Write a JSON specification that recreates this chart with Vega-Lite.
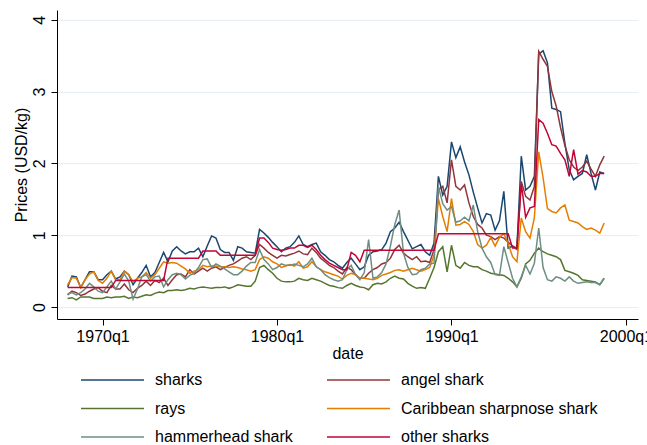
{
"$schema":"https://vega.github.io/schema/vega-lite/v6.json",
"width":581,"height":309,
"autosize":{"type":"none"},
"padding":{"left":57,"top":10,"right":9,"bottom":126},
"background":"white",
"config":{"font":"Liberation Sans","view":{"stroke":null},"axis":{"labelFont":"Liberation Sans","titleFont":"Liberation Sans","titleFontWeight":"normal","labelColor":"#000","titleColor":"#000"},"legend":{"labelFont":"Liberation Sans","labelColor":"#000"}},
"datasets":{
"sharks":[{"t":1968,"v":0.28},{"t":1968.25,"v":0.43},{"t":1968.5,"v":0.42},{"t":1968.75,"v":0.27},{"t":1969,"v":0.38},{"t":1969.25,"v":0.49},{"t":1969.5,"v":0.49},{"t":1969.75,"v":0.38},{"t":1970,"v":0.38},{"t":1970.25,"v":0.45},{"t":1970.5,"v":0.50},{"t":1970.75,"v":0.39},{"t":1971,"v":0.42},{"t":1971.25,"v":0.50},{"t":1971.5,"v":0.45},{"t":1971.75,"v":0.31},{"t":1972,"v":0.40},{"t":1972.25,"v":0.48},{"t":1972.5,"v":0.58},{"t":1972.75,"v":0.42},{"t":1973,"v":0.48},{"t":1973.25,"v":0.62},{"t":1973.5,"v":0.76},{"t":1973.75,"v":0.63},{"t":1974,"v":0.78},{"t":1974.25,"v":0.84},{"t":1974.5,"v":0.78},{"t":1974.75,"v":0.74},{"t":1975,"v":0.77},{"t":1975.25,"v":0.77},{"t":1975.5,"v":0.82},{"t":1975.75,"v":0.70},{"t":1976,"v":0.85},{"t":1976.25,"v":0.99},{"t":1976.5,"v":0.96},{"t":1976.75,"v":0.80},{"t":1977,"v":0.76},{"t":1977.25,"v":0.76},{"t":1977.5,"v":0.65},{"t":1977.75,"v":0.84},{"t":1978,"v":0.82},{"t":1978.25,"v":0.77},{"t":1978.5,"v":0.76},{"t":1978.75,"v":0.75},{"t":1979,"v":1.08},{"t":1979.25,"v":1.03},{"t":1979.5,"v":0.97},{"t":1979.75,"v":0.90},{"t":1980,"v":0.84},{"t":1980.25,"v":0.77},{"t":1980.5,"v":0.82},{"t":1980.75,"v":0.84},{"t":1981,"v":0.90},{"t":1981.25,"v":0.99},{"t":1981.5,"v":0.87},{"t":1981.75,"v":0.84},{"t":1982,"v":0.87},{"t":1982.25,"v":0.89},{"t":1982.5,"v":0.77},{"t":1982.75,"v":0.72},{"t":1983,"v":0.66},{"t":1983.25,"v":0.63},{"t":1983.5,"v":0.58},{"t":1983.75,"v":0.54},{"t":1984,"v":0.62},{"t":1984.25,"v":0.68},{"t":1984.5,"v":0.60},{"t":1984.75,"v":0.52},{"t":1985,"v":0.56},{"t":1985.25,"v":0.72},{"t":1985.5,"v":0.77},{"t":1985.75,"v":0.78},{"t":1986,"v":0.80},{"t":1986.25,"v":0.89},{"t":1986.5,"v":1.05},{"t":1986.75,"v":1.10},{"t":1987,"v":1.18},{"t":1987.25,"v":1.05},{"t":1987.5,"v":0.93},{"t":1987.75,"v":0.81},{"t":1988,"v":0.84},{"t":1988.25,"v":0.87},{"t":1988.5,"v":0.77},{"t":1988.75,"v":0.72},{"t":1989,"v":0.89},{"t":1989.25,"v":1.82},{"t":1989.5,"v":1.56},{"t":1989.75,"v":1.68},{"t":1990,"v":2.30},{"t":1990.25,"v":2.08},{"t":1990.5,"v":2.23},{"t":1990.75,"v":2.02},{"t":1991,"v":1.84},{"t":1991.25,"v":1.60},{"t":1991.5,"v":1.38},{"t":1991.75,"v":1.17},{"t":1992,"v":1.30},{"t":1992.25,"v":1.28},{"t":1992.5,"v":1.07},{"t":1992.75,"v":1.20},{"t":1993,"v":1.61},{"t":1993.25,"v":0.82},{"t":1993.5,"v":0.85},{"t":1993.75,"v":0.82},{"t":1994,"v":2.10},{"t":1994.25,"v":1.63},{"t":1994.5,"v":1.68},{"t":1994.75,"v":1.82},{"t":1995,"v":3.52},{"t":1995.25,"v":3.57},{"t":1995.5,"v":3.40},{"t":1995.75,"v":2.77},{"t":1996,"v":2.75},{"t":1996.25,"v":2.72},{"t":1996.5,"v":2.28},{"t":1996.75,"v":1.91},{"t":1997,"v":1.77},{"t":1997.25,"v":1.82},{"t":1997.5,"v":1.86},{"t":1997.75,"v":2.12},{"t":1998,"v":1.86},{"t":1998.25,"v":1.63},{"t":1998.5,"v":1.88},{"t":1998.75,"v":1.86}],
"angel":[{"t":1968,"v":0.17},{"t":1968.25,"v":0.22},{"t":1968.5,"v":0.20},{"t":1968.75,"v":0.16},{"t":1969,"v":0.18},{"t":1969.25,"v":0.22},{"t":1969.5,"v":0.25},{"t":1969.75,"v":0.27},{"t":1970,"v":0.22},{"t":1970.25,"v":0.20},{"t":1970.5,"v":0.30},{"t":1970.75,"v":0.25},{"t":1971,"v":0.25},{"t":1971.25,"v":0.32},{"t":1971.5,"v":0.24},{"t":1971.75,"v":0.20},{"t":1972,"v":0.26},{"t":1972.25,"v":0.30},{"t":1972.5,"v":0.36},{"t":1972.75,"v":0.30},{"t":1973,"v":0.37},{"t":1973.25,"v":0.34},{"t":1973.5,"v":0.40},{"t":1973.75,"v":0.30},{"t":1974,"v":0.38},{"t":1974.25,"v":0.45},{"t":1974.5,"v":0.46},{"t":1974.75,"v":0.42},{"t":1975,"v":0.52},{"t":1975.25,"v":0.46},{"t":1975.5,"v":0.50},{"t":1975.75,"v":0.54},{"t":1976,"v":0.50},{"t":1976.25,"v":0.54},{"t":1976.5,"v":0.56},{"t":1976.75,"v":0.52},{"t":1977,"v":0.55},{"t":1977.25,"v":0.58},{"t":1977.5,"v":0.60},{"t":1977.75,"v":0.64},{"t":1978,"v":0.68},{"t":1978.25,"v":0.70},{"t":1978.5,"v":0.66},{"t":1978.75,"v":0.72},{"t":1979,"v":0.87},{"t":1979.25,"v":0.82},{"t":1979.5,"v":0.76},{"t":1979.75,"v":0.72},{"t":1980,"v":0.68},{"t":1980.25,"v":0.72},{"t":1980.5,"v":0.71},{"t":1980.75,"v":0.73},{"t":1981,"v":0.75},{"t":1981.25,"v":0.78},{"t":1981.5,"v":0.74},{"t":1981.75,"v":0.73},{"t":1982,"v":0.82},{"t":1982.25,"v":0.76},{"t":1982.5,"v":0.68},{"t":1982.75,"v":0.63},{"t":1983,"v":0.58},{"t":1983.25,"v":0.55},{"t":1983.5,"v":0.50},{"t":1983.75,"v":0.46},{"t":1984,"v":0.55},{"t":1984.25,"v":0.52},{"t":1984.5,"v":0.45},{"t":1984.75,"v":0.40},{"t":1985,"v":0.40},{"t":1985.25,"v":0.47},{"t":1985.5,"v":0.52},{"t":1985.75,"v":0.55},{"t":1986,"v":0.60},{"t":1986.25,"v":0.62},{"t":1986.5,"v":0.68},{"t":1986.75,"v":0.80},{"t":1987,"v":0.86},{"t":1987.25,"v":0.75},{"t":1987.5,"v":0.70},{"t":1987.75,"v":0.66},{"t":1988,"v":0.70},{"t":1988.25,"v":0.63},{"t":1988.5,"v":0.64},{"t":1988.75,"v":0.62},{"t":1989,"v":0.80},{"t":1989.25,"v":1.63},{"t":1989.5,"v":1.68},{"t":1989.75,"v":1.45},{"t":1990,"v":2.05},{"t":1990.25,"v":1.68},{"t":1990.5,"v":1.63},{"t":1990.75,"v":1.70},{"t":1991,"v":1.45},{"t":1991.25,"v":1.26},{"t":1991.5,"v":1.15},{"t":1991.75,"v":1.10},{"t":1992,"v":1.00},{"t":1992.25,"v":0.98},{"t":1992.5,"v":0.94},{"t":1992.75,"v":0.98},{"t":1993,"v":0.96},{"t":1993.25,"v":0.90},{"t":1993.5,"v":0.85},{"t":1993.75,"v":0.80},{"t":1994,"v":1.75},{"t":1994.25,"v":1.54},{"t":1994.5,"v":1.49},{"t":1994.75,"v":1.68},{"t":1995,"v":3.56},{"t":1995.25,"v":3.45},{"t":1995.5,"v":3.35},{"t":1995.75,"v":3.00},{"t":1996,"v":2.80},{"t":1996.25,"v":2.50},{"t":1996.5,"v":2.25},{"t":1996.75,"v":2.05},{"t":1997,"v":1.95},{"t":1997.25,"v":1.90},{"t":1997.5,"v":1.95},{"t":1997.75,"v":2.03},{"t":1998,"v":1.92},{"t":1998.25,"v":1.82},{"t":1998.5,"v":1.98},{"t":1998.75,"v":2.10}],
"rays":[{"t":1968,"v":0.12},{"t":1968.25,"v":0.13},{"t":1968.5,"v":0.10},{"t":1968.75,"v":0.14},{"t":1969,"v":0.14},{"t":1969.25,"v":0.14},{"t":1969.5,"v":0.12},{"t":1969.75,"v":0.12},{"t":1970,"v":0.12},{"t":1970.25,"v":0.14},{"t":1970.5,"v":0.13},{"t":1970.75,"v":0.14},{"t":1971,"v":0.14},{"t":1971.25,"v":0.15},{"t":1971.5,"v":0.12},{"t":1971.75,"v":0.14},{"t":1972,"v":0.13},{"t":1972.25,"v":0.15},{"t":1972.5,"v":0.17},{"t":1972.75,"v":0.16},{"t":1973,"v":0.19},{"t":1973.25,"v":0.21},{"t":1973.5,"v":0.20},{"t":1973.75,"v":0.23},{"t":1974,"v":0.23},{"t":1974.25,"v":0.24},{"t":1974.5,"v":0.23},{"t":1974.75,"v":0.24},{"t":1975,"v":0.26},{"t":1975.25,"v":0.25},{"t":1975.5,"v":0.27},{"t":1975.75,"v":0.28},{"t":1976,"v":0.27},{"t":1976.25,"v":0.26},{"t":1976.5,"v":0.27},{"t":1976.75,"v":0.27},{"t":1977,"v":0.28},{"t":1977.25,"v":0.26},{"t":1977.5,"v":0.28},{"t":1977.75,"v":0.31},{"t":1978,"v":0.30},{"t":1978.25,"v":0.29},{"t":1978.5,"v":0.29},{"t":1978.75,"v":0.36},{"t":1979,"v":0.55},{"t":1979.25,"v":0.58},{"t":1979.5,"v":0.52},{"t":1979.75,"v":0.47},{"t":1980,"v":0.40},{"t":1980.25,"v":0.36},{"t":1980.5,"v":0.35},{"t":1980.75,"v":0.35},{"t":1981,"v":0.36},{"t":1981.25,"v":0.40},{"t":1981.5,"v":0.38},{"t":1981.75,"v":0.37},{"t":1982,"v":0.40},{"t":1982.25,"v":0.38},{"t":1982.5,"v":0.36},{"t":1982.75,"v":0.33},{"t":1983,"v":0.30},{"t":1983.25,"v":0.29},{"t":1983.5,"v":0.27},{"t":1983.75,"v":0.26},{"t":1984,"v":0.30},{"t":1984.25,"v":0.33},{"t":1984.5,"v":0.30},{"t":1984.75,"v":0.28},{"t":1985,"v":0.27},{"t":1985.25,"v":0.24},{"t":1985.5,"v":0.31},{"t":1985.75,"v":0.33},{"t":1986,"v":0.32},{"t":1986.25,"v":0.35},{"t":1986.5,"v":0.40},{"t":1986.75,"v":0.43},{"t":1987,"v":0.40},{"t":1987.25,"v":0.39},{"t":1987.5,"v":0.33},{"t":1987.75,"v":0.29},{"t":1988,"v":0.26},{"t":1988.25,"v":0.27},{"t":1988.5,"v":0.26},{"t":1988.75,"v":0.40},{"t":1989,"v":0.55},{"t":1989.25,"v":0.77},{"t":1989.5,"v":0.84},{"t":1989.75,"v":0.49},{"t":1990,"v":0.86},{"t":1990.25,"v":0.58},{"t":1990.5,"v":0.54},{"t":1990.75,"v":0.62},{"t":1991,"v":0.58},{"t":1991.25,"v":0.56},{"t":1991.5,"v":0.56},{"t":1991.75,"v":0.52},{"t":1992,"v":0.50},{"t":1992.25,"v":0.47},{"t":1992.5,"v":0.46},{"t":1992.75,"v":0.45},{"t":1993,"v":0.44},{"t":1993.25,"v":0.40},{"t":1993.5,"v":0.35},{"t":1993.75,"v":0.28},{"t":1994,"v":0.40},{"t":1994.25,"v":0.60},{"t":1994.5,"v":0.65},{"t":1994.75,"v":0.75},{"t":1995,"v":0.82},{"t":1995.25,"v":0.77},{"t":1995.5,"v":0.74},{"t":1995.75,"v":0.72},{"t":1996,"v":0.70},{"t":1996.25,"v":0.66},{"t":1996.5,"v":0.51},{"t":1996.75,"v":0.49},{"t":1997,"v":0.47},{"t":1997.25,"v":0.44},{"t":1997.5,"v":0.38},{"t":1997.75,"v":0.37},{"t":1998,"v":0.36},{"t":1998.25,"v":0.35},{"t":1998.5,"v":0.31},{"t":1998.75,"v":0.40}],
"carib":[{"t":1968,"v":0.31},{"t":1968.25,"v":0.41},{"t":1968.5,"v":0.40},{"t":1968.75,"v":0.27},{"t":1969,"v":0.38},{"t":1969.25,"v":0.46},{"t":1969.5,"v":0.49},{"t":1969.75,"v":0.37},{"t":1970,"v":0.33},{"t":1970.25,"v":0.40},{"t":1970.5,"v":0.50},{"t":1970.75,"v":0.38},{"t":1971,"v":0.38},{"t":1971.25,"v":0.50},{"t":1971.5,"v":0.45},{"t":1971.75,"v":0.35},{"t":1972,"v":0.40},{"t":1972.25,"v":0.42},{"t":1972.5,"v":0.48},{"t":1972.75,"v":0.40},{"t":1973,"v":0.45},{"t":1973.25,"v":0.54},{"t":1973.5,"v":0.63},{"t":1973.75,"v":0.61},{"t":1974,"v":0.62},{"t":1974.25,"v":0.61},{"t":1974.5,"v":0.57},{"t":1974.75,"v":0.53},{"t":1975,"v":0.47},{"t":1975.25,"v":0.50},{"t":1975.5,"v":0.52},{"t":1975.75,"v":0.58},{"t":1976,"v":0.56},{"t":1976.25,"v":0.57},{"t":1976.5,"v":0.57},{"t":1976.75,"v":0.56},{"t":1977,"v":0.56},{"t":1977.25,"v":0.55},{"t":1977.5,"v":0.56},{"t":1977.75,"v":0.55},{"t":1978,"v":0.53},{"t":1978.25,"v":0.52},{"t":1978.5,"v":0.50},{"t":1978.75,"v":0.52},{"t":1979,"v":0.66},{"t":1979.25,"v":0.70},{"t":1979.5,"v":0.68},{"t":1979.75,"v":0.63},{"t":1980,"v":0.60},{"t":1980.25,"v":0.55},{"t":1980.5,"v":0.57},{"t":1980.75,"v":0.59},{"t":1981,"v":0.57},{"t":1981.25,"v":0.63},{"t":1981.5,"v":0.54},{"t":1981.75,"v":0.56},{"t":1982,"v":0.63},{"t":1982.25,"v":0.56},{"t":1982.5,"v":0.52},{"t":1982.75,"v":0.49},{"t":1983,"v":0.47},{"t":1983.25,"v":0.45},{"t":1983.5,"v":0.43},{"t":1983.75,"v":0.39},{"t":1984,"v":0.44},{"t":1984.25,"v":0.47},{"t":1984.5,"v":0.45},{"t":1984.75,"v":0.40},{"t":1985,"v":0.40},{"t":1985.25,"v":0.39},{"t":1985.5,"v":0.38},{"t":1985.75,"v":0.40},{"t":1986,"v":0.44},{"t":1986.25,"v":0.46},{"t":1986.5,"v":0.48},{"t":1986.75,"v":0.51},{"t":1987,"v":0.52},{"t":1987.25,"v":0.50},{"t":1987.5,"v":0.52},{"t":1987.75,"v":0.54},{"t":1988,"v":0.52},{"t":1988.25,"v":0.50},{"t":1988.5,"v":0.52},{"t":1988.75,"v":0.55},{"t":1989,"v":0.72},{"t":1989.25,"v":1.51},{"t":1989.5,"v":1.26},{"t":1989.75,"v":1.05},{"t":1990,"v":1.51},{"t":1990.25,"v":1.14},{"t":1990.5,"v":1.15},{"t":1990.75,"v":1.19},{"t":1991,"v":1.15},{"t":1991.25,"v":1.05},{"t":1991.5,"v":0.87},{"t":1991.75,"v":0.82},{"t":1992,"v":0.86},{"t":1992.25,"v":0.97},{"t":1992.5,"v":0.85},{"t":1992.75,"v":0.97},{"t":1993,"v":1.02},{"t":1993.25,"v":0.88},{"t":1993.5,"v":0.70},{"t":1993.75,"v":0.63},{"t":1994,"v":1.24},{"t":1994.25,"v":1.05},{"t":1994.5,"v":0.96},{"t":1994.75,"v":1.24},{"t":1995,"v":2.16},{"t":1995.25,"v":1.80},{"t":1995.5,"v":1.37},{"t":1995.75,"v":1.33},{"t":1996,"v":1.31},{"t":1996.25,"v":1.38},{"t":1996.5,"v":1.42},{"t":1996.75,"v":1.21},{"t":1997,"v":1.19},{"t":1997.25,"v":1.17},{"t":1997.5,"v":1.12},{"t":1997.75,"v":1.08},{"t":1998,"v":1.10},{"t":1998.25,"v":1.07},{"t":1998.5,"v":1.03},{"t":1998.75,"v":1.17}],
"hammer":[{"t":1968,"v":0.18},{"t":1968.25,"v":0.20},{"t":1968.5,"v":0.17},{"t":1968.75,"v":0.20},{"t":1969,"v":0.25},{"t":1969.25,"v":0.33},{"t":1969.5,"v":0.28},{"t":1969.75,"v":0.22},{"t":1970,"v":0.20},{"t":1970.25,"v":0.28},{"t":1970.5,"v":0.36},{"t":1970.75,"v":0.25},{"t":1971,"v":0.35},{"t":1971.25,"v":0.46},{"t":1971.5,"v":0.36},{"t":1971.75,"v":0.11},{"t":1972,"v":0.25},{"t":1972.25,"v":0.42},{"t":1972.5,"v":0.45},{"t":1972.75,"v":0.36},{"t":1973,"v":0.42},{"t":1973.25,"v":0.43},{"t":1973.5,"v":0.28},{"t":1973.75,"v":0.38},{"t":1974,"v":0.45},{"t":1974.25,"v":0.47},{"t":1974.5,"v":0.45},{"t":1974.75,"v":0.39},{"t":1975,"v":0.44},{"t":1975.25,"v":0.47},{"t":1975.5,"v":0.55},{"t":1975.75,"v":0.66},{"t":1976,"v":0.67},{"t":1976.25,"v":0.55},{"t":1976.5,"v":0.60},{"t":1976.75,"v":0.57},{"t":1977,"v":0.53},{"t":1977.25,"v":0.49},{"t":1977.5,"v":0.45},{"t":1977.75,"v":0.45},{"t":1978,"v":0.50},{"t":1978.25,"v":0.57},{"t":1978.5,"v":0.62},{"t":1978.75,"v":0.62},{"t":1979,"v":0.80},{"t":1979.25,"v":0.66},{"t":1979.5,"v":0.60},{"t":1979.75,"v":0.52},{"t":1980,"v":0.55},{"t":1980.25,"v":0.60},{"t":1980.5,"v":0.58},{"t":1980.75,"v":0.58},{"t":1981,"v":0.60},{"t":1981.25,"v":0.58},{"t":1981.5,"v":0.56},{"t":1981.75,"v":0.60},{"t":1982,"v":0.68},{"t":1982.25,"v":0.56},{"t":1982.5,"v":0.52},{"t":1982.75,"v":0.45},{"t":1983,"v":0.41},{"t":1983.25,"v":0.38},{"t":1983.5,"v":0.36},{"t":1983.75,"v":0.38},{"t":1984,"v":0.52},{"t":1984.25,"v":0.58},{"t":1984.5,"v":0.45},{"t":1984.75,"v":0.38},{"t":1985,"v":0.48},{"t":1985.25,"v":0.94},{"t":1985.5,"v":0.40},{"t":1985.75,"v":0.42},{"t":1986,"v":0.48},{"t":1986.25,"v":0.60},{"t":1986.5,"v":0.85},{"t":1986.75,"v":1.15},{"t":1987,"v":1.35},{"t":1987.25,"v":0.75},{"t":1987.5,"v":0.55},{"t":1987.75,"v":0.45},{"t":1988,"v":0.46},{"t":1988.25,"v":0.52},{"t":1988.5,"v":0.54},{"t":1988.75,"v":0.60},{"t":1989,"v":0.61},{"t":1989.25,"v":1.68},{"t":1989.5,"v":1.44},{"t":1989.75,"v":1.35},{"t":1990,"v":1.40},{"t":1990.25,"v":1.18},{"t":1990.5,"v":1.20},{"t":1990.75,"v":1.25},{"t":1991,"v":1.20},{"t":1991.25,"v":1.42},{"t":1991.5,"v":1.05},{"t":1991.75,"v":0.82},{"t":1992,"v":0.70},{"t":1992.25,"v":0.62},{"t":1992.5,"v":0.45},{"t":1992.75,"v":0.44},{"t":1993,"v":0.84},{"t":1993.25,"v":0.62},{"t":1993.5,"v":0.40},{"t":1993.75,"v":0.28},{"t":1994,"v":0.42},{"t":1994.25,"v":0.58},{"t":1994.5,"v":0.46},{"t":1994.75,"v":0.61},{"t":1995,"v":1.10},{"t":1995.25,"v":0.55},{"t":1995.5,"v":0.38},{"t":1995.75,"v":0.36},{"t":1996,"v":0.42},{"t":1996.25,"v":0.40},{"t":1996.5,"v":0.36},{"t":1996.75,"v":0.42},{"t":1997,"v":0.36},{"t":1997.25,"v":0.33},{"t":1997.5,"v":0.34},{"t":1997.75,"v":0.35},{"t":1998,"v":0.34},{"t":1998.25,"v":0.34},{"t":1998.5,"v":0.31},{"t":1998.75,"v":0.40}],
"other":[{"t":1968,"v":0.27},{"t":1968.25,"v":0.27},{"t":1968.5,"v":0.27},{"t":1968.75,"v":0.27},{"t":1969,"v":0.27},{"t":1969.25,"v":0.27},{"t":1969.5,"v":0.27},{"t":1969.75,"v":0.27},{"t":1970,"v":0.27},{"t":1970.25,"v":0.27},{"t":1970.5,"v":0.27},{"t":1970.75,"v":0.37},{"t":1971,"v":0.37},{"t":1971.25,"v":0.37},{"t":1971.5,"v":0.37},{"t":1971.75,"v":0.37},{"t":1972,"v":0.37},{"t":1972.25,"v":0.37},{"t":1972.5,"v":0.37},{"t":1972.75,"v":0.37},{"t":1973,"v":0.37},{"t":1973.25,"v":0.37},{"t":1973.5,"v":0.37},{"t":1973.75,"v":0.68},{"t":1974,"v":0.68},{"t":1974.25,"v":0.68},{"t":1974.5,"v":0.68},{"t":1974.75,"v":0.68},{"t":1975,"v":0.68},{"t":1975.25,"v":0.68},{"t":1975.5,"v":0.68},{"t":1975.75,"v":0.78},{"t":1976,"v":0.78},{"t":1976.25,"v":0.78},{"t":1976.5,"v":0.78},{"t":1976.75,"v":0.72},{"t":1977,"v":0.72},{"t":1977.25,"v":0.72},{"t":1977.5,"v":0.72},{"t":1977.75,"v":0.72},{"t":1978,"v":0.72},{"t":1978.25,"v":0.72},{"t":1978.5,"v":0.72},{"t":1978.75,"v":0.72},{"t":1979,"v":0.96},{"t":1979.25,"v":0.96},{"t":1979.5,"v":0.90},{"t":1979.75,"v":0.82},{"t":1980,"v":0.80},{"t":1980.25,"v":0.79},{"t":1980.5,"v":0.80},{"t":1980.75,"v":0.82},{"t":1981,"v":0.82},{"t":1981.25,"v":0.86},{"t":1981.5,"v":0.86},{"t":1981.75,"v":0.83},{"t":1982,"v":0.86},{"t":1982.25,"v":0.80},{"t":1982.5,"v":0.72},{"t":1982.75,"v":0.66},{"t":1983,"v":0.61},{"t":1983.25,"v":0.58},{"t":1983.5,"v":0.55},{"t":1983.75,"v":0.52},{"t":1984,"v":0.52},{"t":1984.25,"v":0.76},{"t":1984.5,"v":0.72},{"t":1984.75,"v":0.63},{"t":1985,"v":0.79},{"t":1985.25,"v":0.79},{"t":1985.5,"v":0.79},{"t":1985.75,"v":0.79},{"t":1986,"v":0.79},{"t":1986.25,"v":0.79},{"t":1986.5,"v":0.79},{"t":1986.75,"v":0.79},{"t":1987,"v":0.79},{"t":1987.25,"v":0.79},{"t":1987.5,"v":0.79},{"t":1987.75,"v":0.79},{"t":1988,"v":0.79},{"t":1988.25,"v":0.79},{"t":1988.5,"v":0.79},{"t":1988.75,"v":0.79},{"t":1989,"v":0.79},{"t":1989.25,"v":1.02},{"t":1989.5,"v":1.02},{"t":1989.75,"v":1.02},{"t":1990,"v":1.02},{"t":1990.25,"v":1.02},{"t":1990.5,"v":1.02},{"t":1990.75,"v":1.02},{"t":1991,"v":1.02},{"t":1991.25,"v":1.02},{"t":1991.5,"v":1.02},{"t":1991.75,"v":1.02},{"t":1992,"v":1.02},{"t":1992.25,"v":1.02},{"t":1992.5,"v":1.02},{"t":1992.75,"v":1.02},{"t":1993,"v":1.02},{"t":1993.25,"v":1.02},{"t":1993.5,"v":0.82},{"t":1993.75,"v":0.82},{"t":1994,"v":1.72},{"t":1994.25,"v":1.25},{"t":1994.5,"v":1.38},{"t":1994.75,"v":1.40},{"t":1995,"v":2.61},{"t":1995.25,"v":2.56},{"t":1995.5,"v":2.42},{"t":1995.75,"v":2.26},{"t":1996,"v":2.24},{"t":1996.25,"v":2.14},{"t":1996.5,"v":2.05},{"t":1996.75,"v":1.82},{"t":1997,"v":2.19},{"t":1997.25,"v":1.85},{"t":1997.5,"v":1.90},{"t":1997.75,"v":1.88},{"t":1998,"v":1.82},{"t":1998.25,"v":1.82},{"t":1998.5,"v":1.86},{"t":1998.75,"v":1.86}]
},
"encoding":{
"x":{"field":"t","type":"quantitative","scale":{"domain":[1967.39,2000.69],"nice":false,"zero":false},"axis":{"values":[1970,1980,1990,2000],"labelExpr":"datum.value + 'q1'","title":"date","grid":false,"domainColor":"#000","tickColor":"#000","tickSize":6,"labelPadding":3,"labelFontSize":16,"titleFontSize":16,"titlePadding":1,"labelFlush":false,"labelOverlap":false,"labelBound":false}},
"y":{"field":"v","type":"quantitative","scale":{"domain":[-0.167,4.136],"nice":false,"zero":false},"axis":{"values":[0,1,2,3,4],"title":"Prices (USD/kg)","grid":true,"gridColor":"#e6eef3","gridWidth":1,"domainColor":"#000","tickColor":"#000","tickSize":6,"labelAngle":-90,"labelAlign":"center","labelBaseline":"bottom","labelPadding":4,"labelFontSize":16,"titleFontSize":16,"titlePadding":2,"labelFlush":false,"labelOverlap":false}}
},
"layer":[
{"data":{"name":"sharks"},"mark":{"type":"line","strokeWidth":1.5},"encoding":{"color":{"datum":"sharks","type":"nominal","scale":{"domain":["sharks","rays","hammerhead shark","angel shark","Caribbean sharpnose shark","other sharks"],"range":["#1a476f","#55752f","#6e8e84","#90353b","#e37e00","#c10534"]},"legend":{"orient":"none","legendX":23,"legendY":362,"columns":2,"title":null,"symbolType":"stroke","symbolSize":3969,"symbolStrokeWidth":1.5,"clipHeight":16,"labelFontSize":16,"labelOffset":10,"labelLimit":400,"rowPadding":12.5,"columnPadding":33,"padding":0}}}},
{"data":{"name":"angel"},"mark":{"type":"line","strokeWidth":1.5},"encoding":{"color":{"datum":"angel shark","type":"nominal"}}},
{"data":{"name":"rays"},"mark":{"type":"line","strokeWidth":1.5},"encoding":{"color":{"datum":"rays","type":"nominal"}}},
{"data":{"name":"carib"},"mark":{"type":"line","strokeWidth":1.5},"encoding":{"color":{"datum":"Caribbean sharpnose shark","type":"nominal"}}},
{"data":{"name":"hammer"},"mark":{"type":"line","strokeWidth":1.5},"encoding":{"color":{"datum":"hammerhead shark","type":"nominal"}}},
{"data":{"name":"other"},"mark":{"type":"line","strokeWidth":1.5},"encoding":{"color":{"datum":"other sharks","type":"nominal"}}}
]
}
